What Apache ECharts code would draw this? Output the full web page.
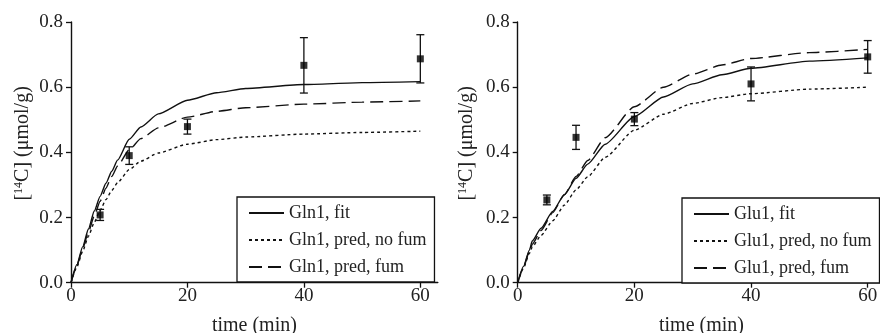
<!DOCTYPE html>
<html>
<head>
<meta charset="utf-8">
<script src="https://cdn.jsdelivr.net/npm/echarts@6/dist/echarts.min.js"></script>
<style>html,body{margin:0;padding:0;background:#fff;}#c{width:880px;height:333px;}</style>
</head>
<body>
<div id="c"></div>
<script>
// ---- data ----
const xTicks = [0, 20, 40, 60];
const yTicks = [0, 0.2, 0.4, 0.6, 0.8];

// Left panel (Gln1)
const glnNames = ['Gln1, fit', 'Gln1, pred, no fum', 'Gln1, pred, fum'];
const glnT     = [0, 1, 2, 3, 4, 5, 6, 7, 8, 10, 12, 15, 20, 25, 30, 40, 50, 60];
const glnFit   = [0, 0.055, 0.11, 0.165, 0.22, 0.265, 0.305, 0.342, 0.376, 0.44, 0.478, 0.518, 0.56, 0.583, 0.596, 0.608, 0.614, 0.617];
const glnNoFum = [0, 0.048, 0.096, 0.143, 0.185, 0.222, 0.255, 0.283, 0.307, 0.347, 0.373, 0.398, 0.425, 0.439, 0.447, 0.456, 0.461, 0.465];
const glnFum   = [0, 0.052, 0.104, 0.156, 0.205, 0.25, 0.29, 0.326, 0.358, 0.408, 0.442, 0.475, 0.508, 0.526, 0.537, 0.548, 0.554, 0.558];
const glnObsT  = [5, 10, 20, 40, 60];
const glnObs   = [0.208, 0.39, 0.479, 0.667, 0.687];
const glnErr   = [0.017, 0.027, 0.023, 0.085, 0.074];

// Right panel (Glu1)
const gluNames = ['Glu1, fit', 'Glu1, pred, no fum', 'Glu1, pred, fum'];
const gluT     = [0, 1, 2, 2.5, 4, 6, 8, 10, 12, 15, 20, 25, 30, 35, 40, 50, 60];
const gluFit   = [0, 0.05, 0.1, 0.128, 0.167, 0.219, 0.27, 0.32, 0.364, 0.425, 0.51, 0.57, 0.61, 0.638, 0.658, 0.68, 0.69];
const gluNoFum = [0, 0.045, 0.09, 0.11, 0.145, 0.19, 0.238, 0.285, 0.325, 0.385, 0.468, 0.517, 0.55, 0.568, 0.58, 0.594, 0.6];
const gluFum   = [0, 0.048, 0.096, 0.118, 0.16, 0.215, 0.27, 0.326, 0.375, 0.445, 0.54, 0.6, 0.64, 0.668, 0.688, 0.706, 0.716];
const gluObsT  = [5, 10, 20, 40, 60];
const gluObs   = [0.254, 0.446, 0.502, 0.61, 0.693];
const gluErr   = [0.015, 0.037, 0.02, 0.052, 0.05];

// ---- style ----
const FONT = '"Liberation Serif", "Times New Roman", serif';
const INK = '#111';
const TXT = '#222';
const dashTypes = ['solid', [3, 3], [13, 6]];

function zip(a, b) { return a.map((v, i) => [v, b[i]]); }

function xAxis(gi) {
  return {
    type: 'value', gridIndex: gi, min: 0, max: 63, interval: 20,
    name: 'time (min)', nameLocation: 'middle', nameGap: 33,
    nameTextStyle: { fontFamily: FONT, fontSize: 20, color: TXT },
    axisLine: { lineStyle: { color: INK, width: 1.4 } },
    axisTick: { show: true, length: 5, inside: false, customValues: xTicks, lineStyle: { color: INK, width: 1.3 } },
    axisLabel: { customValues: xTicks, margin: 4, fontFamily: FONT, fontSize: 19, color: TXT },
    splitLine: { show: false }
  };
}
function yAxis(gi, gap) {
  return {
    type: 'value', gridIndex: gi, min: 0, max: 0.8, interval: 0.2,
    name: '[{sup|14}C] (μmol/g)', nameLocation: 'middle', nameGap: gap,
    nameTextStyle: {
      fontFamily: FONT, fontSize: 20, color: TXT, padding: [0, 0, 0, 18],
      rich: { sup: { fontFamily: FONT, fontSize: 12, color: TXT, verticalAlign: 'top', lineHeight: 14 } }
    },
    axisLine: { show: true, lineStyle: { color: INK, width: 1.4 } },
    axisTick: { show: true, length: 5, inside: false, customValues: yTicks, lineStyle: { color: INK, width: 1.3 } },
    axisLabel: { customValues: yTicks, margin: 8, fontFamily: FONT, fontSize: 19, color: TXT,
                 formatter: v => v.toFixed(1) },
    splitLine: { show: false }
  };
}
function curves(names, t, ys, gi) {
  return ys.map((y, i) => ({
    type: 'line', name: names[i], xAxisIndex: gi, yAxisIndex: gi,
    data: zip(t, y), symbol: 'none', smooth: 0.2, smoothMonotone: 'x',
    lineStyle: { color: INK, width: 1.4, type: dashTypes[i] },
    itemStyle: { color: INK }, z: 3
  }));
}
function obs(t, y, e, gi) {
  return [
    {
      type: 'custom', xAxisIndex: gi, yAxisIndex: gi,
      data: t.map((v, i) => [v, y[i], e[i]]),
      encode: { x: 0, y: 1 },
      clip: false,
      renderItem: function (params, api) {
        const x = api.value(0), yy = api.value(1), ee = api.value(2);
        const top = api.coord([x, yy + ee]);
        const bot = api.coord([x, yy - ee]);
        const w = 4;
        const st = { stroke: INK, lineWidth: 1.3 };
        return {
          type: 'group', children: [
            { type: 'line', shape: { x1: top[0], y1: top[1], x2: bot[0], y2: bot[1] }, style: st },
            { type: 'line', shape: { x1: top[0] - w, y1: top[1], x2: top[0] + w, y2: top[1] }, style: st },
            { type: 'line', shape: { x1: bot[0] - w, y1: bot[1], x2: bot[0] + w, y2: bot[1] }, style: st }
          ]
        };
      },
      z: 4
    },
    {
      type: 'scatter', xAxisIndex: gi, yAxisIndex: gi,
      data: zip(t, y), symbol: 'rect', symbolSize: 7,
      itemStyle: { color: '#000' }, z: 5
    }
  ];
}
function legend(names, left, top) {
  return {
    data: names, orient: 'vertical', left: left, top: top,
    borderColor: INK, borderWidth: 1.3, borderRadius: 0, backgroundColor: '#fff',
    padding: [7, 8, 6, 11], itemWidth: 35, itemHeight: 12, itemGap: 9,
    selectedMode: false,
    itemStyle: { color: 'rgba(0,0,0,0)', borderWidth: 0, opacity: 0 },
    textStyle: { fontFamily: FONT, fontSize: 18, color: TXT }
  };
}

const chart = echarts.init(document.getElementById('c'), null, { renderer: 'canvas' });
chart.setOption({
  animation: false,
  backgroundColor: '#fff',
  grid: [
    { left: 71, top: 22, width: 366.8, height: 260.7, outerBoundsMode: 'none', containLabel: false },
    { left: 517.7, top: 22, width: 367.5, height: 260.7, outerBoundsMode: 'none', containLabel: false }
  ],
  xAxis: [xAxis(0), xAxis(1)],
  yAxis: [yAxis(0, 38), yAxis(1, 41)],
  legend: [legend(glnNames, 237, 197), legend(gluNames, 682, 198)],
  series: [
    ...curves(glnNames, glnT, [glnFit, glnNoFum, glnFum], 0),
    ...obs(glnObsT, glnObs, glnErr, 0),
    ...curves(gluNames, gluT, [gluFit, gluNoFum, gluFum], 1),
    ...obs(gluObsT, gluObs, gluErr, 1)
  ]
});
</script>
</body>
</html>
